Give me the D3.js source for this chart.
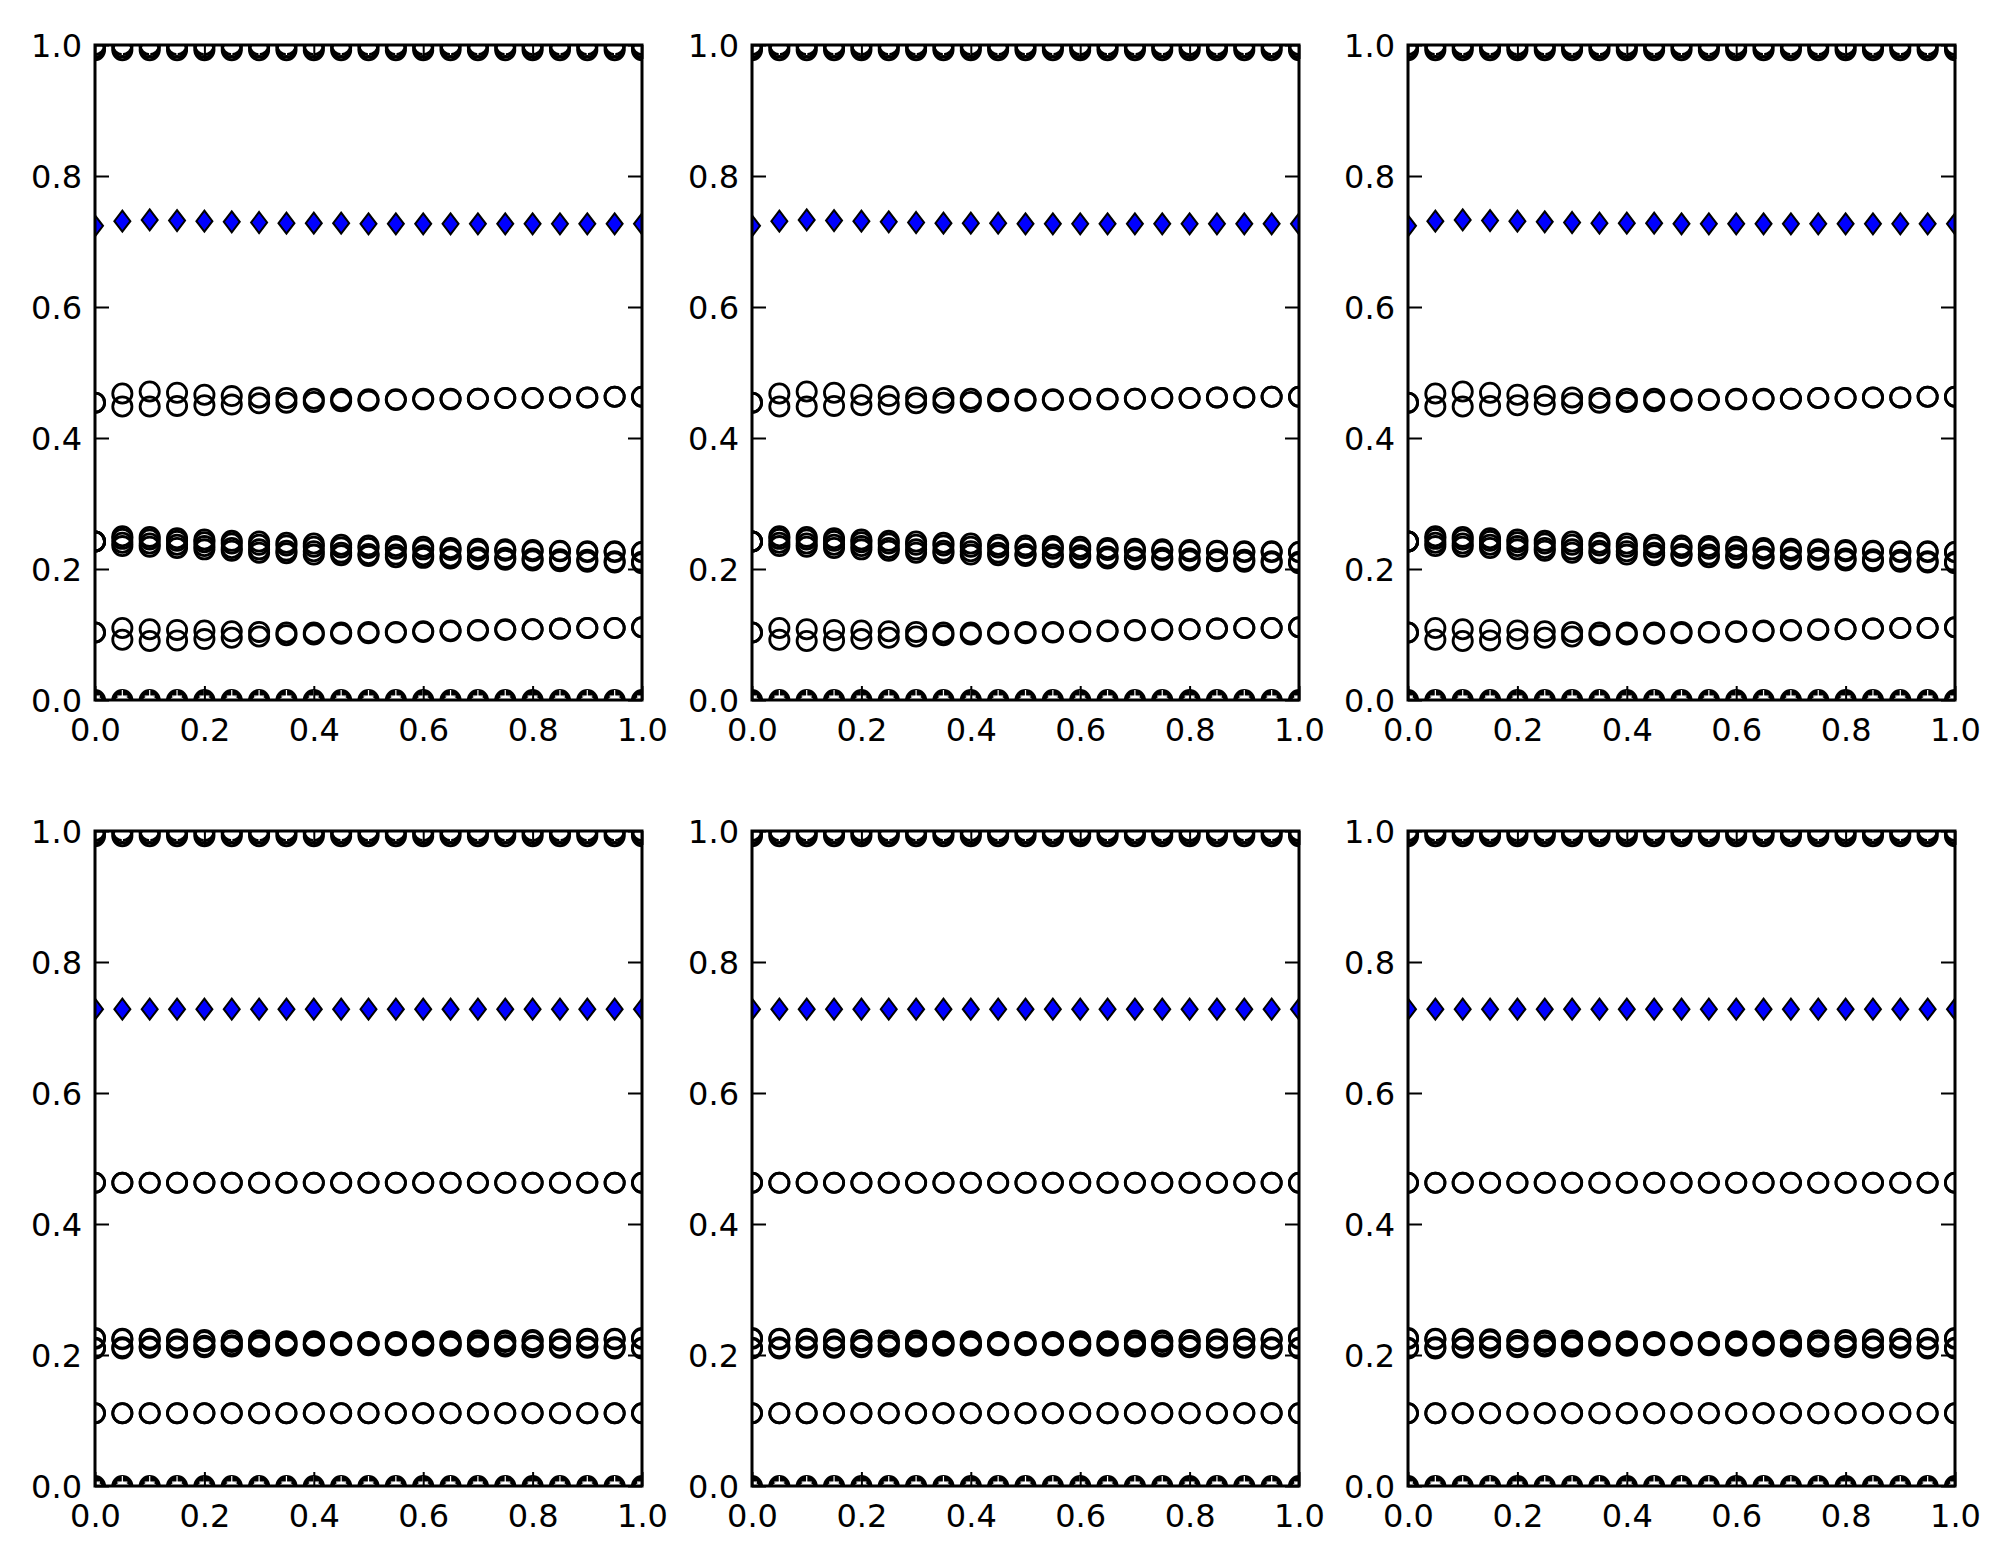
<!DOCTYPE html>
<html><head><meta charset="utf-8">
<script src="https://cdn.jsdelivr.net/npm/d3@7"></script>
<style>body{margin:0;background:#fff}</style>
</head><body>
<svg id="chart" width="2004" height="1565"></svg>
<script>
// ---------- data ----------
const xValues = [0, 0.05, 0.1, 0.15, 0.2, 0.25, 0.3, 0.35, 0.4, 0.45, 0.5, 0.55, 0.6, 0.65, 0.7, 0.75, 0.8, 0.85, 0.9, 0.95, 1.0];
const tickValues = [0, 0.2, 0.4, 0.6, 0.8, 1.0];
const tickLabels = ["0.0", "0.2", "0.4", "0.6", "0.8", "1.0"];

// top row (three identical panels)
const highA = [1.000,1.000,1.000,1.000,1.000,1.000,1.000,1.000,1.000,1.000,1.000,1.000,1.000,1.000,1.000,1.000,1.000,1.000,1.000,1.000,1.000];
const highB = [0.996,0.996,0.996,0.996,0.996,0.996,0.996,0.996,0.996,0.996,0.996,0.996,0.996,0.996,0.996,0.996,0.996,0.996,0.996,0.996,0.996];
const highC = [0.992,0.992,0.992,0.992,0.992,0.992,0.992,0.992,0.992,0.992,0.992,0.992,0.992,0.992,0.992,0.992,0.992,0.992,0.992,0.992,0.992];
const topDiamond = [0.724,0.731,0.733,0.732,0.731,0.730,0.729,0.728,0.728,0.728,0.727,0.727,0.727,0.727,0.727,0.727,0.727,0.727,0.727,0.727,0.727];
const top46A = [0.454,0.468,0.471,0.469,0.466,0.464,0.462,0.461,0.460,0.460,0.459,0.459,0.460,0.460,0.460,0.461,0.461,0.462,0.462,0.463,0.463];
const top46B = [0.454,0.448,0.448,0.449,0.450,0.451,0.453,0.454,0.455,0.456,0.457,0.458,0.459,0.459,0.460,0.461,0.461,0.462,0.462,0.463,0.463];
const top22A = [0.242,0.250,0.249,0.247,0.245,0.243,0.242,0.240,0.239,0.237,0.236,0.235,0.234,0.232,0.231,0.230,0.229,0.228,0.227,0.227,0.226];
const top22B = [0.242,0.246,0.245,0.243,0.241,0.239,0.237,0.236,0.234,0.233,0.232,0.231,0.230,0.229,0.228,0.228,0.227,0.227,0.226,0.226,0.226];
const top22C = [0.242,0.240,0.239,0.237,0.235,0.232,0.230,0.228,0.227,0.225,0.223,0.222,0.221,0.219,0.218,0.217,0.216,0.215,0.214,0.212,0.211];
const top22D = [0.242,0.235,0.234,0.232,0.230,0.228,0.225,0.224,0.222,0.221,0.220,0.218,0.217,0.216,0.215,0.214,0.213,0.212,0.211,0.210,0.209];
const top10A = [0.103,0.110,0.108,0.107,0.106,0.105,0.104,0.103,0.103,0.103,0.104,0.104,0.105,0.106,0.107,0.108,0.108,0.109,0.110,0.110,0.111];
const top10B = [0.103,0.092,0.090,0.091,0.093,0.095,0.097,0.099,0.100,0.101,0.102,0.103,0.104,0.105,0.106,0.107,0.108,0.109,0.110,0.110,0.111];
const lowA = [0.000,0.000,0.000,0.000,0.000,0.000,0.000,0.000,0.000,0.000,0.000,0.000,0.000,0.000,0.000,0.000,0.000,0.000,0.000,0.000,0.000];
const lowB = [-0.003,-0.003,-0.003,-0.003,-0.003,-0.003,-0.003,-0.003,-0.003,-0.003,-0.003,-0.003,-0.003,-0.003,-0.003,-0.003,-0.003,-0.003,-0.003,-0.003,-0.003];
const lowC = [-0.006,-0.006,-0.006,-0.006,-0.006,-0.006,-0.006,-0.006,-0.006,-0.006,-0.006,-0.006,-0.006,-0.006,-0.006,-0.006,-0.006,-0.006,-0.006,-0.006,-0.006];
const plusHigh = [0.994,0.994,0.994,0.994,0.994,0.994,0.994,0.994,0.994,0.994,0.994,0.994,0.994,0.994,0.994,0.994,0.994,0.994,0.994,0.994,0.994];
const plusLow = [0.006,0.006,0.006,0.006,0.006,0.006,0.006,0.006,0.006,0.006,0.006,0.006,0.006,0.006,0.006,0.006,0.006,0.006,0.006,0.006,0.006];

// bottom row (three identical panels)
const botDiamond = [0.728,0.728,0.728,0.728,0.728,0.728,0.728,0.728,0.728,0.728,0.728,0.728,0.728,0.728,0.728,0.728,0.728,0.728,0.728,0.728,0.728];
const bot46 = [0.463,0.463,0.463,0.463,0.463,0.463,0.463,0.463,0.463,0.463,0.463,0.463,0.463,0.463,0.463,0.463,0.463,0.463,0.463,0.463,0.463];
const bot22A = [0.226,0.225,0.225,0.224,0.223,0.222,0.222,0.221,0.221,0.220,0.220,0.220,0.221,0.221,0.222,0.222,0.223,0.224,0.225,0.225,0.226];
const bot22B = [0.210,0.210,0.211,0.211,0.212,0.213,0.213,0.214,0.214,0.215,0.215,0.215,0.214,0.214,0.213,0.213,0.212,0.211,0.211,0.210,0.210];
const bot22C = [0.225,0.224,0.223,0.222,0.221,0.220,0.219,0.219,0.218,0.218,0.218,0.218,0.218,0.219,0.219,0.220,0.221,0.222,0.223,0.224,0.225];
const bot22D = [0.211,0.212,0.213,0.213,0.214,0.215,0.215,0.216,0.216,0.217,0.217,0.217,0.216,0.216,0.215,0.215,0.214,0.213,0.213,0.212,0.211];
const bot10 = [0.111,0.111,0.111,0.111,0.111,0.111,0.111,0.111,0.111,0.111,0.111,0.111,0.111,0.111,0.111,0.111,0.111,0.111,0.111,0.111,0.111];

const topCircles = [lowC, lowB, lowA, top10A, top10B, top22A, top22B, top22C, top22D, top46A, top46B, highC, highB, highA];
const botCircles = [lowC, lowB, lowA, bot10, bot10, bot22A, bot22B, bot22C, bot22D, bot46, bot46, highC, highB, highA];

const rows = [
  {y0: 45, circles: topCircles, diamonds: topDiamond},
  {y0: 831, circles: botCircles, diamonds: botDiamond}
];
const colX = [95, 752, 1408];
const W = 547, H = 655;

// ---------- drawing ----------
const svg = d3.select("#chart");
svg.append("rect").attr("width", 2004).attr("height", 1565).attr("fill", "#fff");
const fmt = d => tickLabels[tickValues.indexOf(d)];
let clipId = 0;

rows.forEach(row => {
  colX.forEach(x0 => {
    const g = svg.append("g").attr("transform", `translate(${x0},${row.y0})`);
    const x = d3.scaleLinear().domain([0, 1]).range([0, W]);
    const y = d3.scaleLinear().domain([0, 1]).range([H, 0]);
    const id = "clip" + (clipId++);
    g.append("clipPath").attr("id", id).append("rect").attr("width", W).attr("height", H);
    const m = g.append("g").attr("clip-path", `url(#${id})`);

    row.circles.forEach(s => {
      m.append("g").selectAll("circle")
        .data(xValues.map((xv, i) => [xv, s[i]]))
        .join("circle")
        .attr("cx", d => x(d[0])).attr("cy", d => y(d[1]))
        .attr("r", 9.6)
        .attr("fill", "none").attr("stroke", "#000").attr("stroke-width", 2.8);
    });

    [plusHigh, plusLow].forEach(s => {
      m.append("g").selectAll("path")
        .data(xValues.map((xv, i) => [xv, s[i]]))
        .join("path")
        .attr("transform", d => `translate(${x(d[0])},${y(d[1])})`)
        .attr("d", "M-5,0H5M0,-6V6")
        .attr("fill", "none").attr("stroke", "#fff").attr("stroke-width", 1.2);
    });

    m.append("g").selectAll("path")
      .data(xValues.map((xv, i) => [xv, row.diamonds[i]]))
      .join("path")
      .attr("transform", d => `translate(${x(d[0])},${y(d[1])})`)
      .attr("d", "M0,-10.5L8,0L0,10.5L-8,0Z")
      .attr("fill", "#0000ff").attr("stroke", "#000").attr("stroke-width", 2);

    const styleAxis = sel => {
      sel.select(".domain").remove();
      sel.selectAll(".tick line").attr("stroke", "#000").attr("stroke-width", 2);
      sel.selectAll(".tick text").attr("fill", "#000")
        .style("font-family", "'DejaVu Sans', sans-serif").style("font-size", "32px");
    };

    g.append("g").attr("transform", `translate(0,${H})`)
      .call(d3.axisBottom(x).tickValues(tickValues).tickFormat(fmt).tickSize(-14).tickSizeOuter(0).tickPadding(18))
      .call(styleAxis);
    g.append("g")
      .call(d3.axisTop(x).tickValues(tickValues).tickFormat(() => "").tickSize(-14).tickSizeOuter(0))
      .call(styleAxis);
    g.append("g")
      .call(d3.axisLeft(y).tickValues(tickValues).tickFormat(fmt).tickSize(-14).tickSizeOuter(0).tickPadding(13))
      .call(styleAxis)
      .selectAll(".tick text").attr("dy", "0.36em");
    g.append("g").attr("transform", `translate(${W},0)`)
      .call(d3.axisRight(y).tickValues(tickValues).tickFormat(() => "").tickSize(-14).tickSizeOuter(0))
      .call(styleAxis);

    g.append("rect").attr("width", W).attr("height", H)
      .attr("fill", "none").attr("stroke", "#000").attr("stroke-width", 3);
  });
});
</script>
</body></html>
